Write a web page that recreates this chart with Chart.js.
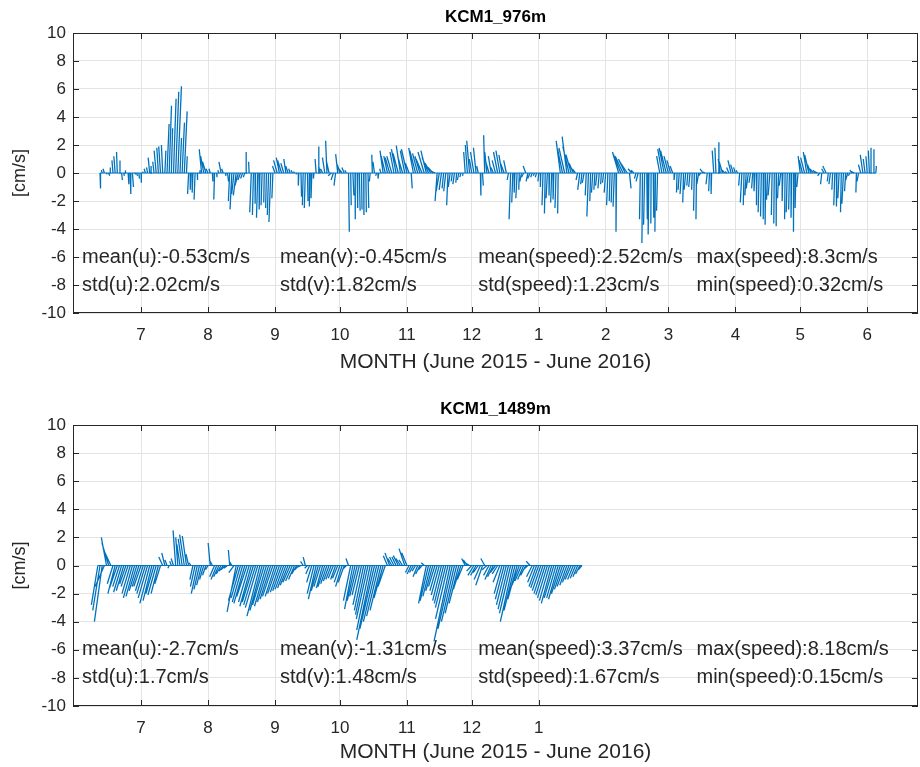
<!DOCTYPE html>
<html lang="en">
<head>
<meta charset="UTF-8">
<title>KCM1 current sticks</title>
<script src="https://cdn.jsdelivr.net/npm/chart.js"></script>
<style>
  html, body { margin: 0; padding: 0; background: #fff; overflow: hidden; }
  .panel { position: absolute; left: 0; width: 920px; }
</style>
</head>
<body>
<div class="panel" style="top:0;height:383px"><canvas id="upper"></canvas></div>
<div class="panel" style="top:392px;height:381px"><canvas id="lower"></canvas></div>

<script>
// time axis in days from 1 June 2015; month ticks on the 1st
const monthDays = [30, 61, 92, 122, 153, 183, 214, 245, 274, 305, 335, 366];
const monthLabels = ['7', '8', '9', '10', '11', '12', '1', '2', '3', '4', '5', '6'];
const xRange = [-1.5, 389.5];
const stickScale = 1.2;          // days of x per cm/s of u

// KCM1 976 m, daily sticks starting day 11
const upperStart = 11;
const upperV = [
  -1.1, 0.2, 0.3, -0.1, -0.2, 0.4, 0.9, 1.2, 1.5, 0.9,
  -0.5, -0.2, 0.2, -0.8, -1.5, -1.0, -0.1, -0.2, -0.4, -0.7,
  0.1, 0.3, 0.4, 1.1, 0.5, 0.8, 1.6, 1.8, 1.9, 2.0,
  1.6, 3.5, 4.8, 3.2, 5.3, 5.8, 6.2, 2.5, 3.6, 4.4,
  1.2, -1.5, -1.2, -1.4, -1.9, -0.5, 0.2, 1.7, 1.2, 0.8,
  0.3, 0.3, -0.6, -1.9, -0.3, 0.2, 0.8, 0.3, -0.2, -0.6,
  -2.0, -2.6, -1.5, -1.6, -0.9, -0.5, -0.4, -0.3, 1.5, 0.8,
  -2.8, -3.0, -2.2, -3.2, -2.6, -2.3, -2.1, -2.5, -3.0, -3.5,
  -1.8, 0.5, 0.9, 1.1, 0.9, 0.7, 1.0, 0.5, 0.3, 0.2,
  0.1, -0.1, -0.9, -1.7, -2.3, -2.5, -2.0, -2.4, -1.8, -0.4,
  1.0, 1.9, 0.4, 0.3, 1.1, 2.3, 0.9, -0.2, -0.5, -0.9,
  1.35, 0.6, 0.3, 0.4, 0.2, -4.2, -2.3, -1.6, -3.3, -2.5,
  -2.7, -2.6, -3.0, -2.8, -2.5, -0.6, 1.3, 0.8, -0.2, -0.4,
  0.3, 1.6, 1.2, 1.2, 1.1, 1.2, 1.5, 1.7, 1.4, 1.95,
  1.2, 1.6, 1.7, 0.7, -1.1, 1.8, 1.6, 1.4, 1.2, 1.0,
  1.5, 1.6, 1.1, 0.7, 0.4, 0.1, -2.0, -1.3, -1.2, -1.1,
  -1.3, -2.3, -1.0, -0.6, -0.8, -0.7, -0.5, -0.3, -0.2, 1.5,
  2.0, 2.3, 1.0, 1.5, 1.8, 0.5, -1.6, -0.9, 2.7, 1.5,
  0.9, 1.2, 0.4, 0.9, 1.5, 1.6, 1.3, 0.7, 0.9, -0.5,
  -3.3, -2.1, -1.4, -1.8, -1.2, -0.6, -0.3, 0.5, -0.6, -0.4,
  -0.3, -0.2, -0.3, -0.6, -1.0, -2.3, -2.9, -1.8, -1.6, -2.1,
  -1.9, -2.5, -2.9, 2.3, 1.7, 1.8, 2.6, 1.9, 1.3, 0.7,
  0.3, -0.5, -1.2, -0.8, -0.7, -1.6, -3.1, -2.0, -1.4, -1.2,
  -0.9, -1.1, -0.8, -0.7, -1.4, -2.3, -2.0, -2.1, -2.4, -4.2,
  1.5, 1.3, 1.2, 1.0, 0.8, -1.1, 0.3, 0.2, -0.4, -0.6,
  -3.3, -5.0, -3.7, -3.3, -4.4, -3.6, -3.2, -4.2, -2.7, 1.2,
  1.7, 1.8, 1.6, 1.2, 0.9, 0.5, -0.5, -1.4, -1.2, -1.5,
  -2.1, -1.2, -0.9, -1.0, -1.2, -2.7, -3.3, -0.8, -0.2, 0.3,
  0.1, -0.8, -1.3, -1.5, 1.6, 1.8, 2.2, 1.0, 0.8, 0.2,
  0.1, 0.4, 0.9, 0.6, 0.4, 0.2, -0.9, -2.1, -2.3, -1.6,
  -1.1, -0.7, -1.1, -1.3, -2.3, -2.8, -3.1, -3.3, -3.7, -1.9,
  -1.6, -3.0, -3.6, -3.8, -1.8, -0.9, -2.0, -3.3, -2.8, -2.6,
  -3.2, -4.2, -2.5, -1.0, 1.2, 0.9, 1.1, 1.5, 1.3, 0.6,
  0.3, 0.2, 0.1, -0.2, -0.8, 0.3, 0.5, -0.6, -0.8, -1.2,
  -2.3, -2.4, -1.8, -2.8, -2.2, -1.3, -0.5, -0.2, 0.2, 0.1,
  -1.4, -0.6, 0.6, 1.3, 1.0, 1.2, 1.6, 1.8, 1.7, 0.5
];
const upperU = [
  0.2, -0.3, -0.5, 0.3, 0.4, -0.2, -0.4, -0.5, -0.3, 0.2,
  0.3, 0.2, -0.2, 0.3, 0.2, 0.4, 0.5, 0.3, 0.2, 0.1,
  -0.3, -0.5, -0.4, -0.6, -0.3, -0.5, -0.8, -0.6, -0.7, -0.5,
  0.4, 0.8, 0.9, 0.5, 1.0, 1.2, 1.4, 0.6, 0.9, 1.1,
  0.3, -0.4, -0.2, -0.3, -0.4, 0.1, 0.2, -0.9, -1.2, -1.3,
  -0.8, -0.5, 0.2, -0.3, 0.1, -0.4, -0.8, -0.6, 0.2, 0.4,
  -0.5, -0.7, -0.9, -1.1, -1.3, -1.0, -0.8, -0.6, -0.3, -0.2,
  -0.6, -0.4, -0.2, -0.5, -0.3, -0.4, -0.2, -0.3, -0.5, -0.7,
  -0.4, -1.0, -1.4, -1.2, -1.5, -1.1, -0.8, -0.9, -0.6, -0.5,
  -0.4, -0.3, -0.2, 0.2, -0.3, -0.4, 0.2, -0.1, -0.3, -0.2,
  -0.4, 0.2, -0.6, -0.8, -0.9, -0.5, -1.1, -1.2, -0.9, -0.6,
  -0.8, -1.0, -1.2, -0.9, -0.6, 0.3, 0.2, 0.4, 0.1, 0.2,
  0.3, 0.2, 0.1, 0.2, 0.3, -0.3, -0.2, -0.6, -0.4, -0.3,
  -0.5, -1.2, -1.6, -1.4, -1.7, -1.9, -1.5, -1.8, -2.0, -1.6,
  -1.9, -1.7, -2.1, -1.4, 0.4, -1.8, -2.2, -2.0, -1.9, -2.3,
  -2.4, -2.1, -2.5, -2.2, -1.8, -1.2, -0.8, -1.2, -0.9, -0.6,
  -0.8, -0.5, -0.7, -0.4, -0.6, -0.3, -0.5, -0.4, -0.2, -0.6,
  -0.8, -1.1, -0.9, -1.3, -1.0, -0.6, 0.2, 0.3, -0.4, -0.8,
  -1.4, -1.1, -0.9, -1.3, -1.6, -1.5, -1.2, -1.4, -1.0, -0.5,
  -0.6, -0.4, -0.3, -0.5, -0.2, -0.6, -0.8, -1.0, -0.7, -0.9,
  -0.6, -0.4, -0.5, -0.3, -0.2, -0.4, -0.3, -0.5, -0.2, -0.4,
  -0.3, -0.4, -0.2, -1.6, -1.9, -2.2, -1.8, -2.4, -2.0, -1.6,
  -1.2, -0.6, -0.8, -0.5, -0.7, -0.4, -0.6, -0.3, -0.5, -0.4,
  -0.6, -0.5, -0.3, -0.4, -0.6, -0.5, -0.3, -0.4, -0.5, -0.2,
  -2.4, -2.8, -3.0, -2.6, -2.9, 0.6, -1.4, -1.1, -0.6, -0.8,
  -0.3, -0.2, -0.4, 0.2, -0.3, -0.1, 0.2, -0.2, -0.4, -1.2,
  -1.6, -1.9, -2.2, -1.7, -1.4, -1.0, -0.3, -0.2, -0.4, -0.5,
  -0.3, -0.6, -0.4, -0.5, -0.2, -0.3, -0.2, -0.7, -0.9, -1.1,
  -1.4, -0.5, -0.3, -0.2, -0.6, -0.4, 0.3, -0.8, -1.2, -0.9,
  -0.6, -0.9, -1.2, -1.0, -0.7, -0.5, -0.4, -0.6, -0.3, -0.5,
  -0.8, -0.6, -0.4, -0.3, -0.2, -0.4, -0.3, -0.1, -0.2, -0.5,
  -0.7, -0.3, -0.2, -0.1, -0.4, -0.6, -0.3, -0.2, -0.4, -0.3,
  -0.2, -0.1, -0.3, -0.5, -0.8, -1.2, -1.5, -1.3, -1.6, -1.4,
  -1.2, -0.9, -1.1, -0.8, -0.5, -0.9, -1.3, -0.4, -0.6, -0.3,
  -0.4, -0.2, -0.5, -0.3, -0.6, -0.4, -0.8, -0.6, -0.9, -1.1,
  -0.2, -0.6, -0.9, -1.0, -0.7, -0.5, -0.4, -0.2, 0.1, 0.2
];
const upperStats = [
  ['mean(u):-0.53cm/s', 'mean(v):-0.45cm/s', 'mean(speed):2.52cm/s', 'max(speed):8.3cm/s'],
  ['std(u):2.02cm/s', 'std(v):1.82cm/s', 'std(speed):1.23cm/s', 'min(speed):0.32cm/s']
];

// KCM1 1489 m, daily sticks starting day 10 (record ends mid January)
const lowerStart = 10;
const lowerV = [
  -2.8, -3.2, -4.0, -1.5, 2.0, 1.6, 1.2, -1.3, -2.0, -1.6,
  -1.5, -1.9, -1.8, -1.3, -1.5, -2.0, -2.3, -2.2, -1.8, -1.5,
  -1.5, -1.8, -2.0, -2.3, -2.7, -2.5, -2.0, -2.1, -2.0, -1.3,
  0.6, 0.9, 0.4, -0.2, 0.3, 0.5, 2.5, 2.0, 1.5, 1.9,
  2.2, 2.1, 0.8, 0.2, -1.0, -1.5, -2.0, -1.7, -1.4, -1.0,
  -0.7, -0.3, 1.6, 0.4, -0.8, -1.0, -0.8, -0.6, -0.4, -0.3,
  -0.2, 1.1, 0.3, -0.5, -3.3, -2.5, -2.3, -2.6, -2.7, -2.2,
  -2.6, -2.9, -2.6, -2.8, -3.0, -3.6, -3.2, -2.8, -2.9, -2.6,
  -2.4, -2.2, -2.2, -2.0, -1.9, -1.8, -1.7, -1.6, -1.4, -1.2,
  -1.1, -1.0, -0.6, -0.3, -0.1, 0.3, 0.6, -0.2, -0.6, -1.2,
  -2.0, -2.4, -1.8, -1.5, -1.6, -1.5, -1.3, -1.1, -1.0, -0.9,
  -1.0, -0.9, -1.2, -1.5, -1.2, -0.3, 0.5, -2.5, -3.1, -2.5,
  -2.2, -2.1, -2.8, -3.2, -3.5, -3.8, -4.6, -5.3, -4.5, -4.0,
  -3.6, -3.2, -2.3, -1.5, 0.7, 0.9, 0.5, 0.6, 0.6, 0.7,
  0.5, 0.4, 1.2, 0.9, -0.5, -0.6, -0.5, -0.4, -0.8, -0.6,
  -0.3, 0.2, -2.7, -2.5, -2.2, -1.8, -1.5, -1.8, -2.1, -2.5,
  -2.7, -3.0, -3.8, -5.4, -4.5, -4.0, -3.4, -2.7, -1.7, -1.0,
  0.5, 0.4, 0.2, -0.4, -0.7, -0.7, -0.5, -1.0, -1.4, 0.5,
  -0.3, -0.7, -1.0, -0.8, -0.5, -0.6, -1.2, -2.0, -2.4, -2.8,
  -3.1, -3.4, -4.0, -3.2, -2.4, -1.4, -1.1, -1.0, -0.7, -0.3,
  0.3, -0.8, -1.2, -1.5, -1.6, -1.8, -2.0, -2.1, -2.3, -2.5,
  -2.7, -2.3, -2.3, -2.4, -2.0, -1.7, -1.5, -1.4, -1.2, -1.0,
  -1.0, -0.9, -0.8, -0.6, -0.3
];
const lowerU = [
  -2.5, -2.8, -3.0, -3.5, -2.0, -2.6, -3.0, -2.2, -2.8, -3.0,
  -2.6, -3.1, -2.9, -2.4, -2.7, -3.2, -3.5, -3.3, -2.9, -2.6,
  -2.8, -3.0, -3.3, -3.6, -3.8, -3.4, -3.1, -3.2, -2.8, -2.2,
  -1.5, -1.2, -0.8, -0.5, -0.6, -0.9, -1.0, -0.8, -1.2, -1.5,
  -1.8, -1.6, -1.0, -0.6, -1.2, -1.8, -2.3, -2.1, -1.9, -1.6,
  -1.3, -1.0, -0.8, -1.2, -1.9, -2.2, -2.0, -1.8, -1.5, -1.7,
  -1.4, -0.5, -1.0, -2.0, -3.5, -3.8, -3.6, -4.0, -4.2, -3.9,
  -4.1, -4.4, -4.3, -4.6, -4.8, -5.0, -4.7, -4.5, -4.6, -4.3,
  -4.1, -4.0, -3.8, -3.7, -3.5, -3.4, -3.3, -3.2, -3.0, -2.8,
  -2.6, -2.3, -1.9, -1.6, -1.2, -1.0, -0.8, -1.1, -1.5, -2.0,
  -2.6, -3.0, -2.7, -2.5, -2.4, -2.6, -2.4, -2.2, -2.1, -2.0,
  -1.9, -2.0, -2.2, -2.5, -2.3, -1.6, -1.0, -2.8, -3.2, -3.0,
  -2.9, -2.8, -3.3, -3.6, -4.0, -4.5, -5.2, -6.0, -5.6, -5.1,
  -4.7, -4.2, -3.5, -2.8, -1.6, -1.8, -1.5, -1.7, -1.6, -1.9,
  -1.7, -1.4, -2.2, -2.0, -1.4, -1.6, -1.5, -1.3, -1.8, -1.6,
  -1.3, -1.1, -3.0, -3.2, -3.0, -2.7, -2.5, -2.8, -3.1, -3.4,
  -3.6, -4.0, -4.8, -6.2, -5.5, -5.0, -4.4, -3.7, -2.9, -2.2,
  -1.4, -1.6, -1.8, -2.0, -2.3, -2.1, -1.9, -2.4, -2.6, -1.5,
  -1.8, -2.1, -2.4, -2.2, -2.0, -2.1, -2.6, -3.0, -3.4, -3.8,
  -4.0, -4.3, -4.8, -4.2, -3.6, -2.8, -2.5, -2.3, -2.0, -1.8,
  -1.5, -2.2, -2.6, -2.9, -3.1, -3.3, -3.5, -3.6, -3.8, -3.9,
  -4.0, -3.7, -3.6, -3.7, -3.4, -3.1, -2.9, -2.7, -2.5, -2.3,
  -2.2, -2.0, -1.8, -1.6, -1.4
];
const lowerStats = [
  ['mean(u):-2.7cm/s', 'mean(v):-1.31cm/s', 'mean(speed):3.37cm/s', 'max(speed):8.18cm/s'],
  ['std(u):1.7cm/s', 'std(v):1.48cm/s', 'std(speed):1.67cm/s', 'min(speed):0.15cm/s']
];

// where the statistics lines sit (day, cm/s)
const statDays = [2.7, 94.3, 186, 287];
const statRows = [-6, -8];

const FONT = '"Liberation Sans", Arial, Helvetica, sans-serif';
const INK = '#262626';
const STICK = '#0072BD';

// one segment per sample: (t,0) -> (t + u*scale, v), broken by a null
function stickPoints(start, u, v) {
  const pts = [];
  v.forEach((vy, i) => {
    const t = start + i;
    pts.push({x: t, y: 0}, {x: t + u[i] * stickScale, y: vy}, {x: t, y: null});
  });
  return pts;
}

// frame, inward tick marks, title and statistics text
const panelDecor = {
  id: 'panelDecor',
  afterDraw(chart, args, opts) {
    const {ctx, chartArea: a, scales: {x, y}} = chart;
    ctx.save();

    ctx.fillStyle = INK;
    ctx.font = '20px ' + FONT;
    ctx.textAlign = 'left';
    ctx.textBaseline = 'middle';
    opts.stats.forEach((row, r) => {
      row.forEach((txt, c) => {
        ctx.fillText(txt, x.getPixelForValue(statDays[c]), y.getPixelForValue(statRows[r]));
      });
    });

    ctx.strokeStyle = INK;
    ctx.lineWidth = 1;
    ctx.beginPath();
    y.ticks.forEach(t => {
      const py = Math.round(y.getPixelForValue(t.value)) + 0.5;
      ctx.moveTo(a.left, py); ctx.lineTo(a.left + 6, py);
      ctx.moveTo(a.right, py); ctx.lineTo(a.right - 6, py);
    });
    x.ticks.forEach(t => {
      const px = Math.round(x.getPixelForValue(t.value)) + 0.5;
      ctx.moveTo(px, a.bottom); ctx.lineTo(px, a.bottom - 6);
      ctx.moveTo(px, a.top); ctx.lineTo(px, a.top + 6);
    });
    ctx.stroke();
    ctx.strokeRect(Math.round(a.left) + 0.5, Math.round(a.top) + 0.5,
                   Math.round(a.width) - 1, Math.round(a.height) - 1);

    ctx.font = 'bold 17px ' + FONT;
    ctx.textAlign = 'center';
    ctx.fillStyle = '#000';
    ctx.fillText(opts.title, (a.left + a.right) / 2, a.top - 16);
    ctx.restore();
  }
};

function makePanel(id, title, start, u, v, stats, tickCount, xAxisHeight) {
  const days = monthDays.slice(0, tickCount);
  const labels = monthLabels.slice(0, tickCount);
  const last = start + v.length - 1;
  return new Chart(document.getElementById(id), {
    type: 'line',
    data: {
      datasets: [
        {
          data: stickPoints(start, u, v),
          borderColor: STICK,
          borderWidth: 1.3,
          pointRadius: 0,
          spanGaps: false,
          tension: 0
        },
        {
          data: [{x: start, y: 0}, {x: last, y: 0}],
          borderColor: STICK,
          borderWidth: 1,
          pointRadius: 0
        }
      ]
    },
    options: {
      responsive: true,
      maintainAspectRatio: false,
      animation: false,
      layout: {padding: {top: 33, right: 2, left: 0, bottom: 0}},
      plugins: {
        legend: {display: false},
        tooltip: {enabled: false},
        panelDecor: {title: title, stats: stats}
      },
      scales: {
        x: {
          type: 'linear',
          min: xRange[0],
          max: xRange[1],
          afterBuildTicks: s => { s.ticks = days.map(d => ({value: d})); },
          afterFit: s => { s.height = xAxisHeight; },
          ticks: {
            callback: (val, i) => labels[i],
            autoSkip: false,
            maxRotation: 0,
            padding: 12,
            color: INK,
            font: {family: FONT, size: 17}
          },
          grid: {color: '#e4e4e4', drawTicks: false},
          border: {display: false},
          title: {
            display: true,
            text: 'MONTH (June 2015 - June 2016)',
            color: INK,
            font: {family: FONT, size: 21},
            padding: {top: 0, bottom: 8}
          }
        },
        y: {
          min: -10,
          max: 10,
          afterFit: s => { s.width = 73; },
          ticks: {
            stepSize: 2,
            padding: 7,
            color: INK,
            font: {family: FONT, size: 17}
          },
          grid: {color: '#e4e4e4', drawTicks: false},
          border: {display: false},
          title: {
            display: true,
            text: '[cm/s]',
            color: INK,
            font: {family: FONT, size: 18},
            padding: {top: 9, bottom: 0}
          }
        }
      }
    },
    plugins: [panelDecor]
  });
}

makePanel('upper', 'KCM1_976m', upperStart, upperU, upperV, upperStats, 12, 70);
makePanel('lower', 'KCM1_1489m', lowerStart, lowerU, lowerV, lowerStats, 7, 67);
</script>
</body>
</html>
